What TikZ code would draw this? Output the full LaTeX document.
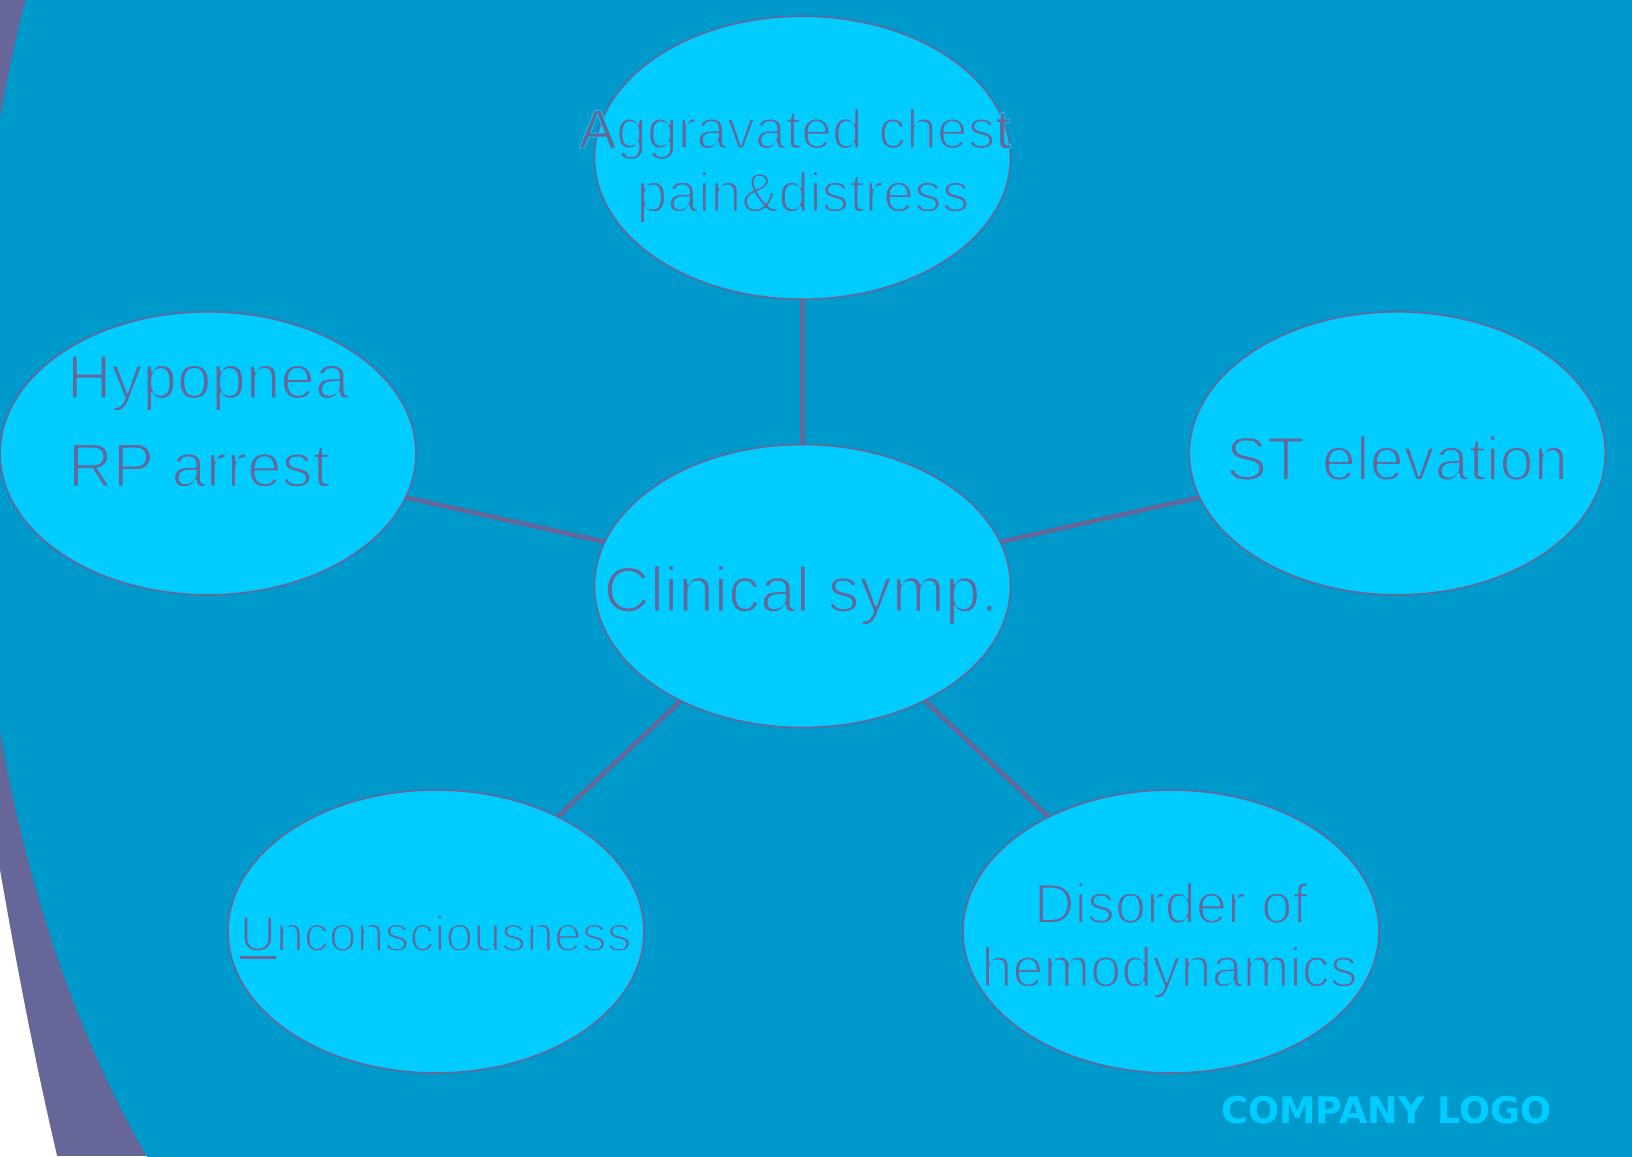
\documentclass[tikz,border=0pt]{standalone}
\usepackage{fontspec}
\setmainfont{Liberation Sans}
\newfontfamily\logofont{DejaVu Sans}
\usetikzlibrary{shapes.geometric}
\definecolor{bgblue}{HTML}{0099CC}
\definecolor{lightfill}{HTML}{00CCFF}
\definecolor{ink}{HTML}{666699}
\newcommand\myul[1]{\setbox0\hbox{#1}\rlap{\rule[-7.5pt]{\wd0}{2.5pt}}\box0}
\newcommand\fs[1]{\fontsize{#1}{#1}\selectfont}
\newcommand\tx[1]{\special{pdf:literal direct 2 Tr 2 w 1 j 0 0.8 1 RG}#1\special{pdf:literal direct 0 Tr}}
\newcommand\txs[1]{\special{pdf:literal direct 2 Tr 0.8 w 1 j 0 0.8 1 RG}#1\special{pdf:literal direct 0 Tr}}
\begin{document}
\begin{tikzpicture}[x=1pt,y=-1pt,
  bubble/.style={ellipse, draw=ink, line width=1.6pt, fill=lightfill,
    minimum width=416pt, minimum height=283pt, inner sep=0pt},
  conn/.style={draw=ink, line width=4.6pt},
  lbl/.style={anchor=base, inner sep=0pt, text=ink},
]
\useasboundingbox (0,0) rectangle (1632,1156);
\begin{scope}
  \clip (0,0) rectangle (1632,1156);
  \fill[ink] (0,0) rectangle (1632,1156);
  \fill[white] (0,870) .. controls (20,985) and (38,1075) .. (58,1160) -- (0,1160) -- cycle;
  \fill[bgblue] (517.6,425) ellipse [x radius=543.5pt, y radius=1000pt];
  \fill[bgblue] (517.6,-10) rectangle (1640,1170);
\end{scope}

\node[bubble] (top)   at (802.5,157.7) {};
\node[bubble] (mid)   at (802.5,586) {};
\node[bubble] (left)  at (208,453.3) {};
\node[bubble] (right) at (1397.3,453.3) {};
\node[bubble] (bl)    at (436,931.5) {};
\node[bubble] (br)    at (1171,931.5) {};

\draw[conn] (mid) -- (top);
\draw[conn] (mid) -- (left);
\draw[conn] (mid) -- (right);
\draw[conn] (mid) -- (bl);
\draw[conn] (mid) -- (br);

\node[lbl, font=\fs{55.5}] (t1a) at (795,148.3) {\txs{A}\tx{ggravated ches}\txs{t}};
\node[lbl, font=\fs{55.5}] (t1b) at (803,211.7) {\tx{pain\&distress}};
\node[lbl, font=\fs{64}] (tm) at (801,611.7) {\tx{Clinical symp.}};
\node[lbl, font=\fs{62}] (tla) at (208,398.3) {\tx{Hypopnea}};
\node[lbl, font=\fs{62}] (tlb) at (199,486.7) {\tx{RP arrest}};
\node[lbl, font=\fs{61.5}] (tr) at (1397,480) {\tx{ST elevation}};
\node[lbl, font=\fs{50}] (tbl) at (435.8,951) {\myul{\tx{U}}\tx{nconsciousness}};
\node[lbl, font=\fs{56}] (tbra) at (1171,923) {\tx{Disorder of}};
\node[lbl, font=\fs{56}] (tbrb) at (1169.5,986.7) {\tx{hemodynamics}};
\node[anchor=base, inner sep=0pt, text=lightfill, font=\logofont\bfseries\fs{36.6}] (logo) at (1386.6,1123.3) {COMPANY LOGO};
\end{tikzpicture}
\end{document}
